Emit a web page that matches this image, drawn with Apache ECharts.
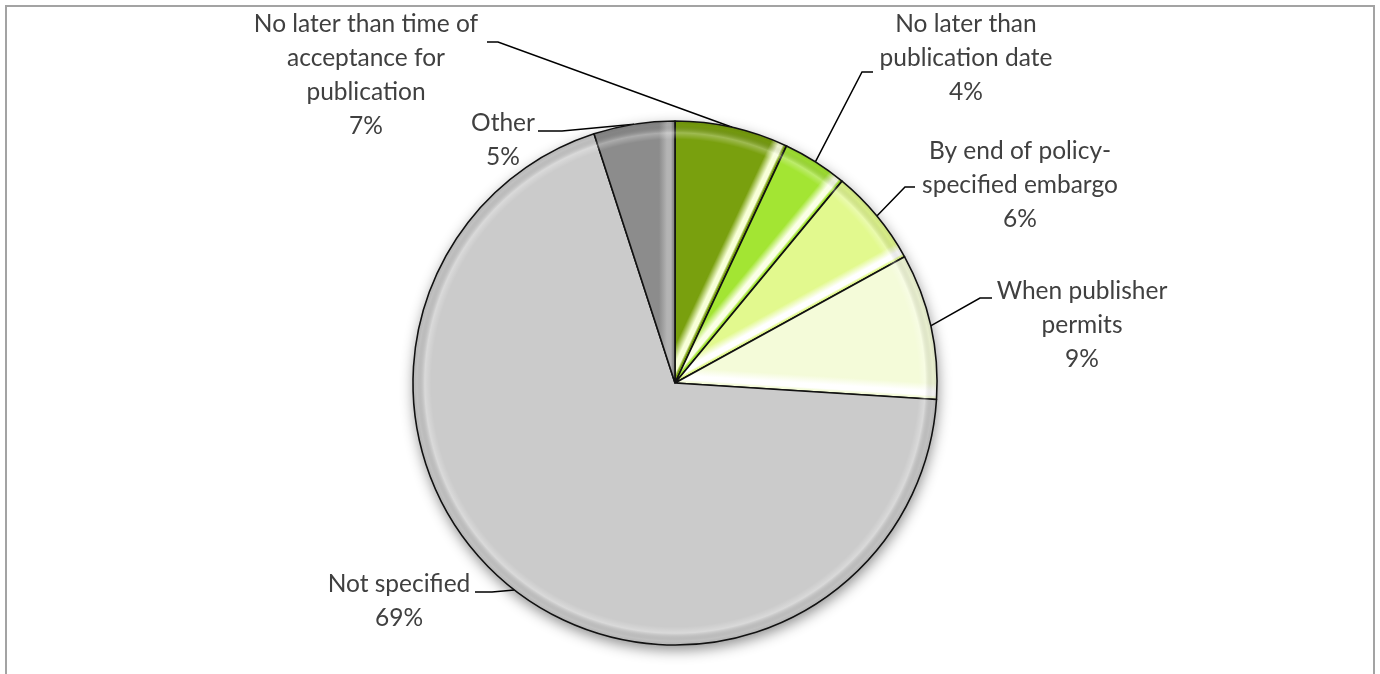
<!DOCTYPE html>
<html>
<head>
<meta charset="utf-8">
<script src="https://cdn.jsdelivr.net/npm/echarts@6/dist/echarts.min.js"></script>
<style>
  html, body { margin: 0; padding: 0; background: #ffffff; }
  #chart { width: 1380px; height: 674px; }
</style>
</head>
<body>
<div id="chart"></div>
<script>
// Deposit timing for policy-mandated manuscripts
const categories = [
  'No later than time of\nacceptance for\npublication',
  'No later than\npublication date',
  'By end of policy-\nspecified embargo',
  'When publisher\npermits',
  'Not specified',
  'Other'
];
const shares = [7, 4, 6, 9, 69, 5];

// fill and highlight streak colour per slice
const sliceColors = ['#79a00e', '#a3e533', '#e2f98e', '#f4fbd9', '#cbcbcb', '#8c8c8c'];
const streakColors = ['#f8ffd8', '#fbffe6', '#ffffff', '#ffffff', '#cbcbcb', '#b4b4b4'];

// pie geometry
const CX = 675, CY = 383, R = 262;

// label block centres and leader bend / end points
const labelSpots = [
  { x: 366,  y: 75,  bend: [498, 42],  end: [487, 42] },
  { x: 966,  y: 58,  bend: [862, 72],  end: [873, 72] },
  { x: 1020, y: 185, bend: [905, 187], end: [915, 187] },
  { x: 1082, y: 325, bend: [980, 298], end: [992, 298] },
  { x: 399,  y: 601, bend: [492, 592], end: [475, 592] },
  { x: 503,  y: 140, bend: [562, 131], end: [538, 131] }
];

const total = shares.reduce((a, b) => a + b, 0);
let running = 0;
const pieData = categories.map((name, i) => {
  running += shares[i];
  // trailing (clockwise) edge of the slice, measured clockwise from 12 o'clock
  const theta = running / total * 2 * Math.PI;
  const nx = -Math.cos(theta), ny = -Math.sin(theta);
  const W = 16;
  const base = sliceColors[i];
  return {
    name: name,
    value: shares[i],
    itemStyle: {
      color: new echarts.graphic.LinearGradient(CX, CY, CX + nx * W, CY + ny * W, [
        { offset: 0, color: base },
        { offset: 0.12, color: base },
        { offset: 0.25, color: streakColors[i] },
        { offset: 0.5, color: streakColors[i] },
        { offset: 1, color: base }
      ], true)
    }
  };
});

const rim = new echarts.graphic.RadialGradient(CX, CY, R, [
  { offset: 0, color: 'rgba(255,255,255,0)' },
  { offset: 0.93, color: 'rgba(255,255,255,0)' },
  { offset: 0.955, color: 'rgba(255,255,255,0.28)' },
  { offset: 0.985, color: 'rgba(0,0,0,0.05)' },
  { offset: 1, color: 'rgba(0,0,0,0.12)' }
], true);

const chart = echarts.init(document.getElementById('chart'), null, { renderer: 'canvas' });

chart.setOption({
  animation: false,
  backgroundColor: '#ffffff',
  graphic: [
    {
      type: 'rect', z: 0,
      shape: { x: 6, y: 6, width: 1368, height: 720 },
      style: { fill: 'none', stroke: '#a3a3a3', lineWidth: 2 }
    },
    {
      type: 'circle', z: 0,
      shape: { cx: CX, cy: CY, r: R },
      style: { fill: '#ffffff', shadowBlur: 14, shadowOffsetY: 5, shadowOffsetX: 1, shadowColor: 'rgba(0,0,0,0.45)' }
    }
  ],
  series: [
    {
      type: 'pie',
      z: 2,
      center: [CX, CY],
      radius: R,
      startAngle: 90,
      clockwise: true,
      avoidLabelOverlap: false,
      percentPrecision: 0,
      data: pieData,
      itemStyle: { borderColor: '#111111', borderWidth: 1.6 },
      emphasis: { disabled: true },
      label: {
        show: true,
        position: 'outside',
        formatter: '{b}\n{d}%',
        color: '#404040',
        fontFamily: 'Lato',
        fontSize: 24.5,
        lineHeight: 34
      },
      labelLine: {
        show: true,
        length: 10,
        length2: 10,
        lineStyle: { color: '#000000', width: 1.5 }
      },
      labelLayout: function (params) {
        const spot = labelSpots[params.dataIndex];
        const start = params.labelLinePoints ? params.labelLinePoints[0] : spot.bend;
        return {
          x: spot.x,
          y: spot.y,
          align: 'center',
          verticalAlign: 'middle',
          labelLinePoints: [start, spot.bend, spot.end]
        };
      }
    },
    {
      type: 'pie',
      z: 3,
      silent: true,
      center: [CX, CY],
      radius: R - 1,
      startAngle: 90,
      clockwise: true,
      data: shares.map((v, i) => ({ name: categories[i], value: v })),
      itemStyle: { color: rim, borderWidth: 0 },
      label: { show: false },
      labelLine: { show: false },
      emphasis: { disabled: true }
    }
  ]
});
</script>
</body>
</html>
